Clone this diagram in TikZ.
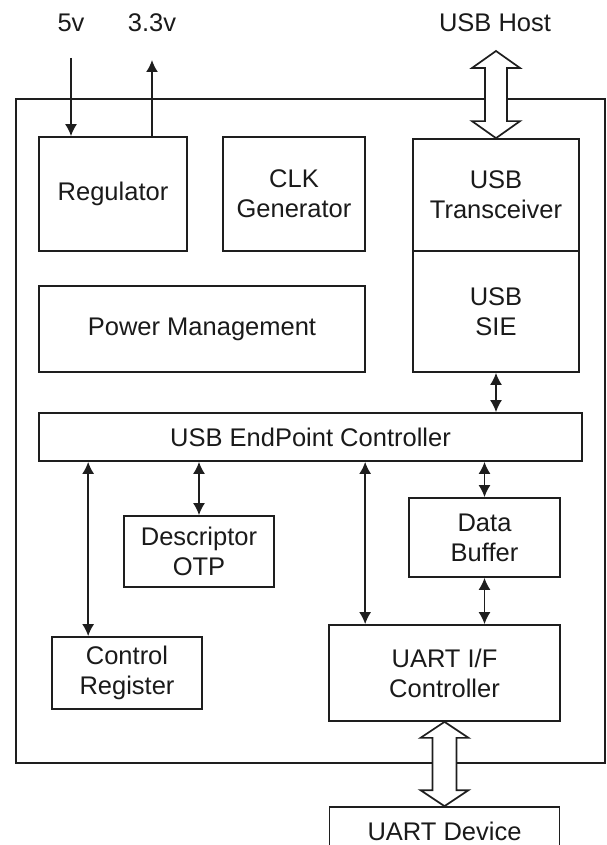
\documentclass[tikz,border=0pt]{standalone}
\usepackage{fontspec}
\setmainfont{Liberation Sans}
\usetikzlibrary{arrows.meta,calc}
\definecolor{linec}{HTML}{1E1E1E}
\definecolor{textc}{HTML}{1A1A1A}
\begin{document}
\begin{tikzpicture}[x=1pt,y=-1pt,
  txt/.style={font=\fontsize{25.5}{30}\selectfont, text=textc},
  box/.style={txt, draw=linec, line width=1.7pt, inner sep=0pt, align=center, fill=white},
  dbl/.style={draw=linec, line width=1.7pt, {Latex[length=12pt,width=12pt]}-{Latex[length=12pt,width=12pt]}},
  one/.style={draw=linec, line width=1.7pt, -{Latex[length=12pt,width=12pt]}},
  blk/.style={draw=linec, line width=1.7pt, fill=white, line join=miter},
  frame/.style={draw=linec, line width=1.7pt, inner sep=0pt}]
\useasboundingbox (0,0) rectangle (607,845);
\clip (0,0) rectangle (607,845);
% outer chip frame
\node[frame, minimum width=589pt, minimum height=664pt] (chip) at (310.5,431) {};
% labels
\node[txt, anchor=base, inner sep=0pt] (l5) at (71,32) {5v};
\node[txt, anchor=base, inner sep=0pt] (l33) at (152,32) {3.3v};
\node[txt, anchor=base, inner sep=0pt] (lhost) at (495,32) {USB\ Host};
% boxes
\node[box, minimum width=148pt, minimum height=114pt] (reg) at (113,194) {Regulator};
\node[box, minimum width=142pt, minimum height=114pt] (clk) at (294,194) {CLK\\Generator};
\node[box, minimum width=166pt, minimum height=112pt] (trx) at (496,195) {USB\\Transceiver};
\node[box, minimum width=166pt, minimum height=121pt] (sie) at (496,311.5) {USB\\SIE};
\node[box, minimum width=326pt, minimum height=86pt] (pm) at (202,329) {Power Management};
\node[box, minimum width=543pt, minimum height=48pt] (epc) at (310.5,437) {USB\ EndPoint Controller};
\node[box, minimum width=150pt, minimum height=71pt] (desc) at (199,551.5) {Descriptor\\OTP};
\node[box, minimum width=151pt, minimum height=79pt] (db) at (484.5,537.5) {Data\\Buffer};
\node[box, minimum width=150pt, minimum height=72pt] (cr) at (127,673) {Control\\Register};
\node[box, minimum width=231pt, minimum height=96pt] (uart) at (444.5,673) {UART I/F\\Controller};
\node[box, minimum width=230pt, minimum height=48pt] (dev) at (444.5,831) {UART Device};
% block arrows
\coordinate (hostT) at (496,51);
\draw[blk] (hostT) -- ++(24,17) -- ++(-13,0) -- ($(trx.north)+(11,-17)$) -- ++(13,0) -- (trx.north)
  -- ++(-24,-17) -- ++(13,0) -- ($(hostT)+(-11,17)$) -- ++(-13,0) -- cycle;
\draw[blk] (uart.south) -- ++(24,16) -- ++(-12,0) -- ($(dev.north)+(12,-16)$) -- ++(12,0) -- (dev.north)
  -- ++(-24,-16) -- ++(12,0) -- ($(uart.south)+(-12,16)$) -- ++(-12,0) -- cycle;
% power arrows
\coordinate (v5) at (71,58);
\coordinate (v33) at (152,60);
\draw[one] (v5) -- (v5 |- reg.north);
\draw[one] (v33 |- reg.north) -- (v33);
% bus arrows
\draw[dbl] (sie.south) -- (sie.south |- epc.north);
\draw[dbl] (epc.south -| db.north) -- (db.north);
\draw[dbl] (db.south) -- (db.south |- uart.north);
\coordinate (a1) at ($(uart.north west)+(37,0)$);
\draw[dbl] (a1 |- epc.south) -- (a1);
\coordinate (a2) at ($(cr.north west)+(37,0)$);
\draw[dbl] (a2 |- epc.south) -- (a2);
\draw[dbl] (epc.south -| desc.north) -- (desc.north);
\end{tikzpicture}
\end{document}
